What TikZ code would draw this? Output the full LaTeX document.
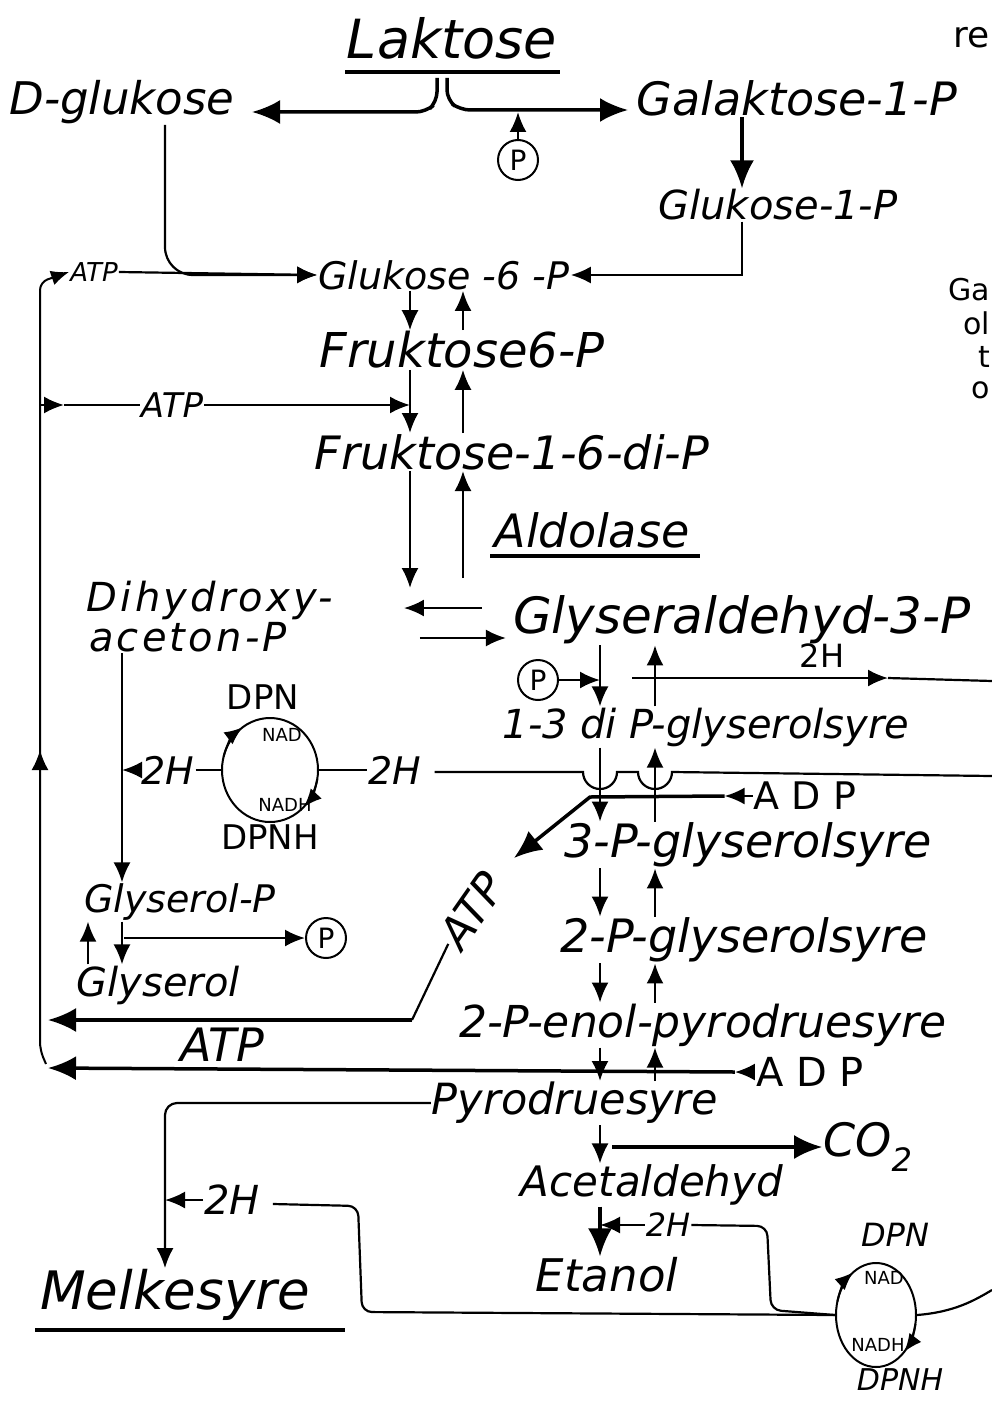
\documentclass[tikz,border=0pt]{standalone}
\usepackage{fontspec}
\setmainfont{DejaVu Sans}
\usetikzlibrary{arrows.meta,calc,shapes.geometric}
\newcommand{\Hand}[1]{\fontsize{#1}{#1}\selectfont\itshape}
\newcommand{\Plain}[1]{\fontsize{#1}{#1}\selectfont}

\tikzset{
  txt/.style={inner sep=1pt},
  flow/.style={line width=2.2pt,-{Latex[length=20pt,width=17pt]}},
  heavy/.style={line width=3.5pt,-{Latex[length=28pt,width=24pt]}},
  wire/.style={line width=2.2pt},
  bar/.style={line width=3.5pt},
  pcirc/.style={circle,draw,line width=2pt,minimum size=40pt,inner sep=0pt,font=\Plain{28}},
  redox/.style={ellipse,draw,line width=2pt,minimum width=96pt,minimum height=104pt,inner sep=0pt},
  turn/.style={line width=2pt,-{Latex[length=18pt,width=15pt]}}
}

\begin{document}
\begin{tikzpicture}[x=1pt,y=-1pt]
\useasboundingbox (0,0) rectangle (992,1402);

% columns
\coordinate (xG) at (742,0);
\coordinate (xL) at (410,0);
\coordinate (xR) at (463,0);
\coordinate (xl) at (600,0);
\coordinate (xr) at (655,0);
\coordinate (xD) at (122,0);
\coordinate (xU) at (88,0);
\coordinate (xM) at (165,0);

% sugars
\node[txt,font=\Hand{54}] (lak) at (452,38) {Laktose};
\draw[bar] (345,72) -- (560,72);
\node[txt,font=\Hand{45}] (dglc) at (122,102) {D-glukose};
\node[txt,font=\Hand{46}] (gal) at (797,98) {Galaktose-1-P};
\node[pcirc] (pA) at (518,160) {P};
\node[txt,font=\Hand{40}] (glc1p) at (778,205) {Glukose-1-P};
\node[txt,font=\Hand{38}] (glc6p) at (444,275) {Glukose -6 -P};
\node[txt,font=\Hand{26}] (atpA) at (94,272) {ATP};
\node[txt,font=\Hand{48}] (fru6p) at (462,350) {Fruktose6-P};
\node[txt,font=\Hand{34}] (atpB) at (172,405) {ATP};
\node[txt,font=\Hand{46}] (frudp) at (512,452) {Fruktose-1-6-di-P};
\node[txt,font=\Hand{46}] (aldo) at (592,530) {Aldolase};
\draw[bar] (490,556) -- (700,556);

% triose part
\node[txt,font=\Hand{40}\addfontfeature{LetterSpace=8}] (dhapA) at (210,600) {Dihydroxy-};
\node[txt,font=\Hand{40}\addfontfeature{LetterSpace=8}] (dhapB) at (188,637) {aceton-P};
\node[txt,font=\Hand{50}] (gap) at (742,620) {Glyseraldehyd-3-P};
\node[pcirc] (pB) at (538,680) {P};
\node[txt,font=\Plain{32}] (hC) at (822,656) {2H};
\node[txt,font=\Hand{40}] (bpg) at (706,727) {1-3 di P-glyserolsyre};
\node[redox] (nadA) at (270,770) {};
\node[txt,font=\Plain{34}] (dpnA) at (263,697) {DPN};
\node[txt,font=\Plain{34}] (dpnhA) at (270,837) {DPNH};
\node[txt,font=\Plain{18}] (nadAo) at (282,735) {NAD};
\node[txt,font=\Plain{18}] (nadAr) at (285,805) {NADH};
\node[txt,font=\Hand{38}] (hA) at (168,770) {2H};
\node[txt,font=\Hand{38}] (hB) at (395,770) {2H};
\node[txt,font=\Plain{38}] (adpA) at (805,796) {A D P};
\node[txt,font=\Hand{46}] (pga3) at (748,845) {3-P-glyserolsyre};
\node[txt,font=\Hand{38}] (g3p) at (180,902) {Glyserol-P};
\node[txt,font=\Hand{40}] (glyc) at (158,985) {Glyserol};
\node[pcirc] (pC) at (326,938) {P};
\node[txt,font=\Hand{46}] (pga2) at (744,940) {2-P-glyserolsyre};
\node[txt,font=\Hand{44},rotate=55] (atpC) at (472,910) {ATP};
\node[txt,font=\Hand{44}] (pep) at (703,1025) {2-P-enol-pyrodruesyre};
\node[txt,font=\Hand{46}] (atpD) at (222,1045) {ATP};
\node[txt,font=\Plain{40}] (adpB) at (810,1072) {A D P};

% fermentation
\node[txt,font=\Hand{43}] (pyr) at (575,1103) {Pyrodruesyre};
\node[txt,font=\Hand{46}] (co2) at (868,1147) {CO\textsubscript{2}};
\node[txt,font=\Hand{42}] (acet) at (652,1185) {Acetaldehyd};
\node[txt,font=\Hand{40}] (hD) at (232,1200) {2H};
\node[txt,font=\Hand{32}] (hE) at (668,1225) {2H};
\node[txt,font=\Hand{45}] (etoh) at (607,1275) {Etanol};
\node[txt,font=\Hand{53}] (lact) at (175,1295) {Melkesyre};
\draw[bar] (35,1330) -- (345,1330);
\node[redox,minimum width=80pt] (nadB) at (876,1315) {};
\node[txt,font=\Hand{32}] (dpnB) at (895,1235) {DPN};
\node[txt,font=\Hand{30}] (dpnhB) at (900,1380) {DPNH};
\node[txt,font=\Plain{18}] (nadBo) at (884,1278) {NAD};
\node[txt,font=\Plain{18}] (nadBr) at (878,1345) {NADH};

% margin scraps
\node[txt,font=\Plain{36},anchor=east] (scrA) at (991,38) {re};
\node[txt,font=\Plain{30},anchor=east] (scrB) at (991,290) {Ga};
\node[txt,font=\Plain{30},anchor=east] (scrC) at (991,323) {ol};
\node[txt,font=\Plain{30},anchor=east] (scrD) at (991,357) {t};
\node[txt,font=\Plain{30},anchor=east] (scrE) at (991,390) {o};

% lactose split
\draw[heavy,rounded corners=10pt] (437,78) -- (437,102) -- (426,112) -- (252,112);
\draw[heavy,rounded corners=10pt] (447,78) -- (447,100) -- (460,110) -- (628,110);
\draw[flow] (pA.north) -- (518,112);
\draw[heavy] (xG |- gal.south) -- (xG |- glc1p.north);
\draw[flow] (xG |- glc1p.south) |- (glc6p.east);
\draw[flow,rounded corners=28pt] (xM |- dglc.south) |- (glc6p.west);
\draw[flow] (atpA.east) -- (glc6p.west);

% upper chain
\draw[flow] (xL |- glc6p.south) -- (xL |- fru6p.north);
\draw[flow] (xR |- fru6p.north) -- (xR |- glc6p.south);
\draw[flow] (xL |- fru6p.south) -- (xL |- frudp.north);
\draw[flow] (xR |- frudp.north) -- (xR |- fru6p.south);
\draw[flow] (40,405) -- (64,405);
\draw[wire] (64,405) -- (atpB.west);
\draw[flow] (atpB.east) -- (xL |- atpB);
\draw[flow] (xL |- frudp.south) -- (410,588);
\draw[flow] (463,578) -- (xR |- frudp.south);
\draw[flow] ($(gap.west)+(-30,-12)$) -- ++(-78,0);
\draw[flow] ($(gap.west)+(-92,18)$) -- ++(86,0);

% glycerol side
\draw[flow] (xD |- dhapB.south) -- (xD |- g3p.north);
\draw[flow] (hA.west) -- (xD |- hA);
\draw[wire] (hA.east) -- (nadA.west);
\draw[wire] (nadA.east) -- (hB.west);
\draw[turn] ([shift={(-165:48 and 52)}]nadA.center) arc (-165:-125:48 and 52);
\draw[turn] ([shift={(10:48 and 52)}]nadA.center) arc (10:45:48 and 52);
\draw[flow] (xD |- g3p.south) -- (xD |- glyc.north);
\draw[flow] (xU |- glyc.north) -- (xU |- g3p.south);
\draw[flow] (124,938) -- (pC.west);

% hydrogen lines
\draw[wire] ($(hB.east)+(12,2)$) -- (583,772) arc (180:0:17) -- (638,772) arc (180:0:17) -- (992,776);
\draw[flow] (632,678) -- (888,678);
\draw[wire] (888,678) -- (992,681);
\draw[flow] (pB.east) -- (xl |- pB);

% lower chain
\draw[flow] (xl |- gap.south) -- (xl |- bpg.north);
\draw[flow] (xr |- bpg.north) -- (xr |- gap.south);
\draw[flow] (xl |- bpg.south) -- (xl |- pga3.north);
\draw[flow] (xr |- pga3.north) -- (xr |- bpg.south);
\draw[flow] (xl |- pga3.south) -- (xl |- pga2.north);
\draw[flow] (xr |- pga2.north) -- (xr |- pga3.south);
\draw[flow] (xl |- pga2.south) -- (xl |- pep.north);
\draw[flow] (xr |- pep.north) -- (xr |- pga2.south);
\draw[flow] (xl |- pep.south) -- (xl |- pyr.north);
\draw[flow] (xr |- pyr.north) -- (xr |- pep.south);

% ATP return
\draw[flow] (adpA.west) -- ++(-28,0);
\draw[heavy] ($(adpA.west)+(-28,0)$) -- (590,797) -- (514,858);
\draw[wire] (atpC.west) -- (412,1020);
\draw[heavy] (412,1020) -- (48,1020);
\draw[flow] (adpB.west) -- ++(-20,0);
\draw[heavy] ($(adpB.west)+(-20,0)$) -- (48,1068);
\draw[turn,rounded corners=8pt] (46,1064) -- (40,1050) -- (40,282) -- (atpA.west);
\draw[flow] (40,790) -- (40,750);

% pyruvate
\draw[flow,rounded corners=12pt] (pyr.west) -| (xM |- lact.north);
\draw[flow] (hD.west) -- (xM |- hD);
\draw[wire,rounded corners=10pt] ($(hD.east)+(12,4)$) -- (358,1206) -- (362,1312) -- (nadB.west);
\draw[flow] (xl |- pyr.south) -- (xl |- acet.north);
\draw[heavy] ($(xl |- co2)+(12,0)$) -- (co2.west);
\draw[heavy] (xl |- acet.south) -- (xl |- etoh.north);
\draw[flow] (hE.west) -- (xl |- hE);
\draw[wire,rounded corners=10pt] (hE.east) -- (767,1226) -- (771,1310) -- (nadB.west);
\draw[turn] ([shift={(-165:40 and 52)}]nadB.center) arc (-165:-125:40 and 52);
\draw[turn] ([shift={(10:40 and 52)}]nadB.center) arc (10:45:40 and 52);
\draw[wire] (nadB.east) .. controls (955,1312) and (975,1300) .. (992,1290);
\end{tikzpicture}
\end{document}
